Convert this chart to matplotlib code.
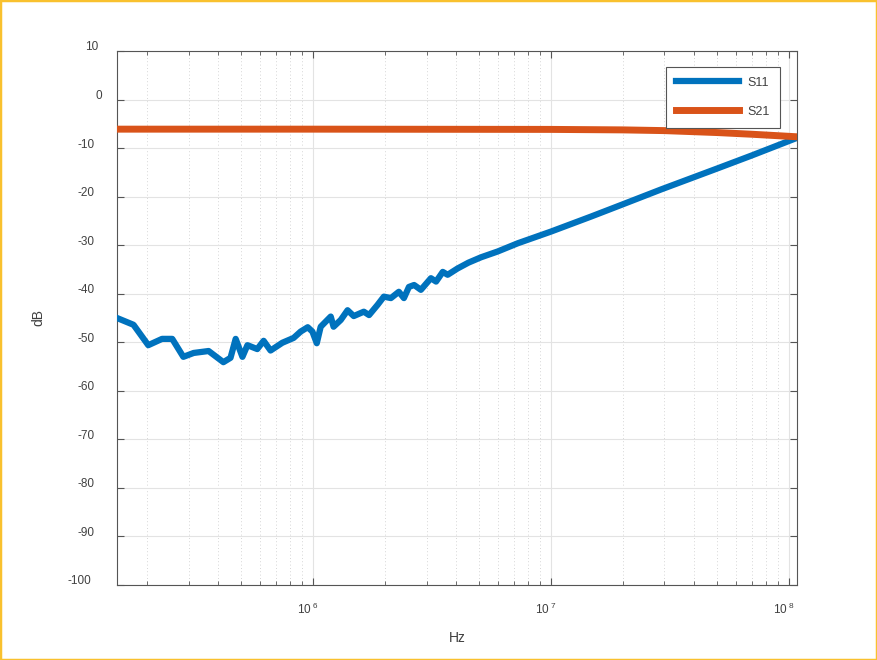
import numpy as np
import matplotlib.pyplot as plt
from matplotlib.ticker import FuncFormatter, LogLocator, MultipleLocator
from matplotlib.transforms import ScaledTranslation
from matplotlib.patches import Rectangle

plt.rcParams["font.family"] = ["Liberation Sans", "DejaVu Sans"]
plt.rcParams["axes.unicode_minus"] = False

# S11 (Hz, dB)
s11_freq = [1.50e5, 1.76e5, 2.03e5, 2.32e5, 2.56e5, 2.85e5, 3.15e5, 3.64e5, 4.20e5, 4.50e5,
            4.73e5, 5.05e5, 5.30e5, 5.83e5, 6.20e5, 6.63e5, 7.43e5, 8.29e5, 8.87e5, 9.50e5,
            9.94e5, 1.037e6, 1.077e6, 1.187e6, 1.22e6, 1.308e6, 1.397e6, 1.483e6, 1.635e6, 1.72e6,
            1.867e6, 1.985e6, 2.125e6, 2.295e6, 2.41e6, 2.53e6, 2.66e6, 2.84e6, 3.13e6, 3.29e6,
            3.51e6, 3.68e6, 4.05e6, 4.5e6, 5.08e6, 5.97e6, 7.26e6, 1.0e7, 1.475e7, 2.0e7,
            2.91e7, 5.0e7, 7.0e7, 1.107e8]
s11_db = [-45.0, -46.4, -50.6, -49.3, -49.3, -53.0, -52.2, -51.8, -54.1, -53.2,
          -49.3, -53.0, -50.6, -51.4, -49.7, -51.7, -50.1, -49.1, -47.8, -46.9,
          -47.8, -50.2, -46.8, -44.7, -46.8, -45.4, -43.4, -44.6, -43.7, -44.4,
          -42.3, -40.6, -40.9, -39.6, -40.9, -38.6, -38.2, -39.2, -36.8, -37.5,
          -35.5, -36.1, -34.8, -33.6, -32.5, -31.3, -29.6, -27.2, -24.1, -21.6,
          -18.5, -14.2, -11.5, -7.7]

# S21 (Hz, dB)
s21_freq = [1.50e5, 1.0e6, 1.0e7, 2.0e7, 3.0e7, 5.0e7, 7.0e7, 9.0e7, 1.107e8]
s21_db = [-6.1, -6.1, -6.15, -6.25, -6.4, -6.8, -7.15, -7.45, -7.7]

fig = plt.figure(figsize=(8.77, 6.6), dpi=100)
ax = fig.add_axes([117 / 877, 75 / 660, 680 / 877, 534 / 660])
fig.patches.append(Rectangle((0, 0), 1, 1, transform=fig.transFigure, fill=False,
                             edgecolor="#f9c12e", linewidth=2.5))

ax.plot(s11_freq, s11_db, color="#0072BD", linewidth=4.5, label="S11", zorder=3,
        solid_joinstyle="round")
ax.plot(s21_freq, s21_db, color="#D95319", linewidth=5, label="S21", zorder=3)

ax.set_xscale("log")
ax.set_xlim(1.5e5, 1.082e8)
ax.set_ylim(-100, 10)
ax.yaxis.set_major_locator(MultipleLocator(10))
ax.xaxis.set_major_locator(LogLocator(base=10))
ax.xaxis.set_minor_locator(LogLocator(base=10, subs=np.arange(2, 10)))
ax.xaxis.set_minor_formatter(FuncFormatter(lambda v, p: ""))
ax.xaxis.set_major_formatter(FuncFormatter(lambda v, p: r"10$^{\ \mathregular{%d}}$" % round(np.log10(v))))
ax.yaxis.set_major_formatter(FuncFormatter(lambda v, p: "%d" % v))

ax.grid(True, which="major", color="#e3e3e3", linewidth=0.8, zorder=0)
ax.grid(True, which="minor", axis="x", color="#c8c8c8", linewidth=0.6, linestyle=(0, (1, 3)), zorder=0)
ax.set_axisbelow(True)

for s in ax.spines.values():
    s.set_color("#555555")
    s.set_linewidth(0.8)
ax.tick_params(which="both", direction="in", top=True, right=True, colors="#555555",
               labelcolor="#404040", labelsize=8.5)
ax.tick_params(which="major", length=5)
ax.tick_params(which="minor", length=3)
ax.tick_params(axis="y", pad=7)
ax.tick_params(axis="x", pad=12)

# MATLAB export quirk: y labels sit a bit high and drift left with their length
for lab in ax.get_yticklabels():
    n = len(lab.get_text())
    lab.set_transform(lab.get_transform() +
                      ScaledTranslation(-(1.3 + 3.8 * n) / 100, 5 / 100, fig.dpi_scale_trans))
for lab in ax.get_xticklabels():
    lab.set_transform(lab.get_transform() + ScaledTranslation(-5 / 100, 0, fig.dpi_scale_trans))

ax.set_xlabel("Hz", fontsize=10, color="#404040")
ax.set_ylabel("dB", fontsize=10, color="#404040")
ax.xaxis.set_label_coords(0.5, -0.086)
ax.yaxis.set_label_coords(-0.106, 0.5)

leg = ax.legend(loc="upper right", bbox_to_anchor=(0.975, 0.9706), borderaxespad=0,
                fontsize=9, handlelength=5.0, handletextpad=0.7, labelspacing=1.35,
                fancybox=False, framealpha=1, edgecolor="#555555", borderpad=0.8)
leg.get_frame().set_linewidth(0.8)
for t in leg.get_texts():
    t.set_color("#404040")

fig.savefig("out.png", dpi=100)
